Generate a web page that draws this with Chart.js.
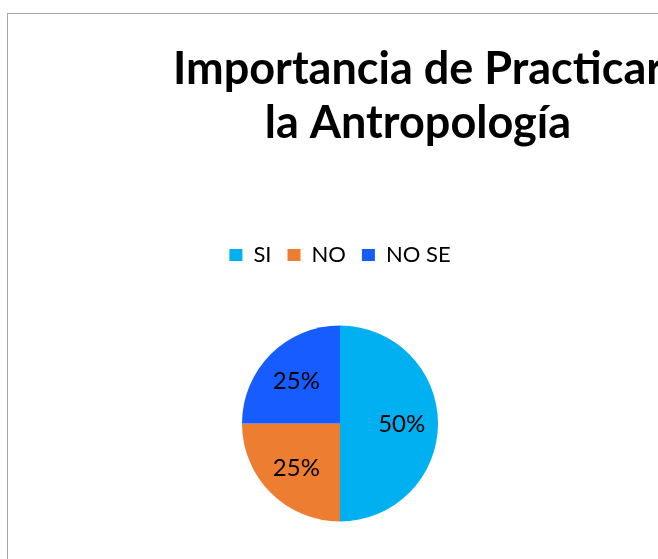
<!DOCTYPE html>
<html>
<head>
<meta charset="utf-8">
<script src="https://cdn.jsdelivr.net/npm/chart.js@4"></script>
<style>
  html, body { margin: 0; padding: 0; background: #fff; overflow: hidden; width: 658px; height: 559px; }
  #frame { position: absolute; left: 7px; top: 13px; width: 760px; height: 620px; border: 1px solid #a6a6a6; }
  #wrap { position: absolute; left: 8px; top: 14px; width: 664px; height: 600px; }
</style>
</head>
<body>
<div id="frame"></div>
<div id="wrap"><canvas id="pie"></canvas></div>
<script>
var titleLines = ['Importancia de Practicar', 'la Antropología'];
var categories = ['SI', 'NO', 'NO SE'];
var values = [50, 25, 25];
var colors = ['#00B0F0', '#ED7D31', '#175CFF'];

// title sits off-centre from the pie in the original, so draw it by hand
var titlePlugin = {
    id: 'offsetTitle',
    afterDraw: function (chart) {
        var ctx = chart.ctx;
        ctx.save();
        ctx.font = 'bold 45px Lato';
        ctx.fillStyle = '#000';
        ctx.textAlign = 'center';
        ctx.textBaseline = 'alphabetic';
        titleLines.forEach(function (line, i) {
            ctx.fillText(line, 410, 70 + i * 54);
        });
        ctx.restore();
    }
};

var pctLabels = {
    id: 'pctLabels',
    afterDatasetsDraw: function (chart) {
        var ctx = chart.ctx;
        var meta = chart.getDatasetMeta(0);
        var total = values.reduce(function (a, b) { return a + b; }, 0);
        ctx.save();
        ctx.font = '24px Lato';
        ctx.fillStyle = '#000';
        ctx.textAlign = 'center';
        ctx.textBaseline = 'middle';
        meta.data.forEach(function (arc, i) {
            var p = arc.getProps(['x', 'y', 'startAngle', 'endAngle', 'outerRadius'], true);
            var mid = (p.startAngle + p.endAngle) / 2;
            var r = p.outerRadius * 0.63;
            var txt = Math.round(values[i] / total * 100) + '%';
            ctx.fillText(txt, p.x + Math.cos(mid) * r, p.y + Math.sin(mid) * r + 1);
        });
        ctx.restore();
    }
};

var chart = new Chart(document.getElementById('pie'), {
    type: 'pie',
    data: {
        labels: categories,
        datasets: [{
            data: values,
            backgroundColor: colors,
            borderWidth: 0
        }]
    },
    options: {
        responsive: true,
        maintainAspectRatio: false,
        animation: false,
        radius: 98,
        layout: { padding: { top: 214, bottom: 43 } },
        plugins: {
            title: { display: false },
            tooltip: { enabled: false },
            legend: {
                position: 'top',
                labels: {
                    boxWidth: 13,
                    boxHeight: 12,
                    padding: 16,
                    color: '#000',
                    font: { family: 'Lato', size: 22 }
                }
            }
        }
    },
    plugins: [titlePlugin, pctLabels]
});
</script>
</body>
</html>
